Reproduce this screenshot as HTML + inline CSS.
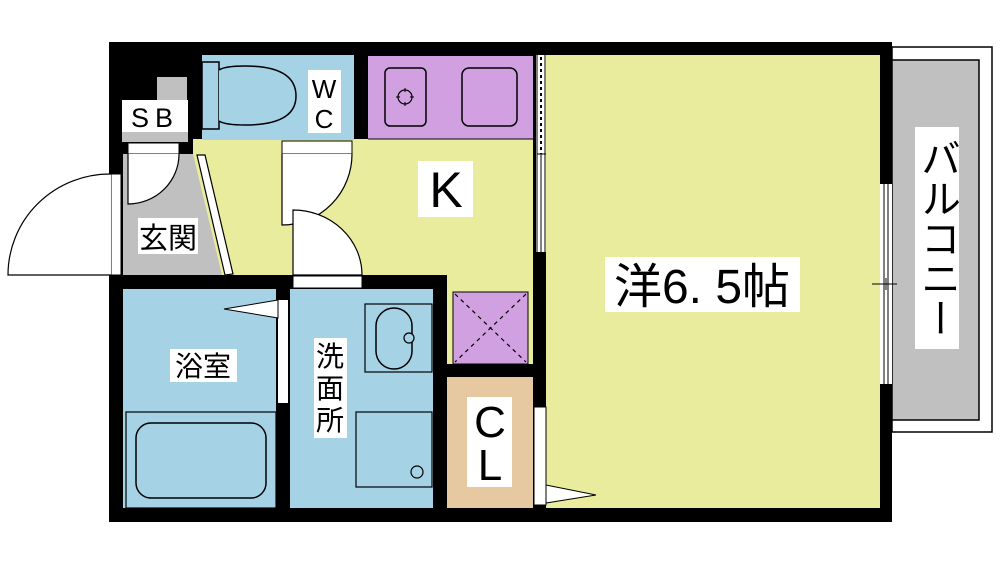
<!DOCTYPE html>
<html><head><meta charset="utf-8"><style>
html,body{margin:0;padding:0;background:#fff;width:1000px;height:562px;overflow:hidden}
.wrap{position:relative;width:1000px;height:562px}
svg{position:absolute;left:0;top:0}
.v{position:absolute;writing-mode:vertical-rl;font-family:"Liberation Sans","Noto Sans CJK JP",sans-serif;background:#fff;color:#000;text-align:center}
</style></head><body><div class="wrap">
<svg width="1000" height="562" viewBox="0 0 1000 562" xmlns="http://www.w3.org/2000/svg" font-family="Liberation Sans, Noto Sans CJK JP, sans-serif">
<!-- balcony -->
<rect x="892" y="47" width="100" height="385" fill="#fff" stroke="#000" stroke-width="1.5"/>
<rect x="892" y="60" width="87" height="360" fill="#c0c0c0" stroke="#000" stroke-width="1.5"/>
<!-- outer wall fill -->
<rect x="109" y="42" width="783" height="480" fill="#000"/>
<!-- main room -->
<rect x="546" y="55" width="334" height="453" fill="#e8ec9c"/>
<!-- right window -->
<rect x="880" y="184" width="12" height="200" fill="#fff"/>
<line x1="884" y1="184" x2="884" y2="384" stroke="#000" stroke-width="1"/>
<line x1="888" y1="184" x2="888" y2="384" stroke="#000" stroke-width="1"/>
<line x1="872" y1="284" x2="897" y2="284" stroke="#000" stroke-width="1"/>
<line x1="886" y1="278" x2="886" y2="290" stroke="#000" stroke-width="1"/>
<!-- kitchen yellow -->
<rect x="193" y="139" width="340" height="136" fill="#e8ec9c"/>
<rect x="447" y="275" width="86" height="89" fill="#e8ec9c"/>
<!-- WC -->
<rect x="202" y="55" width="152" height="85" fill="#a6d2e6"/>
<rect x="202" y="62" width="17" height="67" fill="#a6d2e6" stroke="#000" stroke-width="1.5"/>
<path d="M219 70 Q225 66 245 66 Q296 66 296 96 Q296 125 245 125 Q225 125 219 121" fill="#a6d2e6" stroke="#000" stroke-width="1.5"/>
<rect x="308" y="70" width="33" height="63" fill="#fff"/>
<text x="324" y="98" font-size="26" text-anchor="middle">W</text>
<text x="324" y="128" font-size="26" text-anchor="middle">C</text>
<!-- kitchen counter -->
<rect x="368" y="56" width="165" height="83" fill="#d0a0e0"/>
<line x1="368" y1="139" x2="533" y2="139" stroke="#000" stroke-width="1"/>
<rect x="385" y="68" width="41" height="58" rx="5" fill="none" stroke="#000" stroke-width="1.5"/>
<circle cx="405" cy="97" r="7" fill="none" stroke="#000" stroke-width="1.2"/>
<line x1="396" y1="97" x2="414" y2="97" stroke="#000" stroke-width="1"/>
<line x1="405" y1="88" x2="405" y2="106" stroke="#000" stroke-width="1"/>
<circle cx="405" cy="97" r="5" fill="#d0a0e0"/>
<rect x="462" y="68" width="55" height="58" rx="7" fill="none" stroke="#000" stroke-width="1.5"/>
<!-- partition between kitchen and room -->
<rect x="536" y="55" width="10" height="197" fill="#fff"/>
<line x1="541" y1="57" x2="541" y2="154" stroke="#000" stroke-width="2" stroke-dasharray="3,3"/>
<line x1="537" y1="55" x2="537" y2="252" stroke="#000" stroke-width="1"/>
<line x1="545" y1="55" x2="545" y2="252" stroke="#000" stroke-width="1"/>
<line x1="537" y1="154" x2="546" y2="154" stroke="#000" stroke-width="1"/>
<line x1="541" y1="154" x2="541" y2="252" stroke="#000" stroke-width="1"/>
<!-- SB -->
<rect x="157" y="77" width="30" height="24" fill="#c0c0c0"/>
<rect x="122" y="100" width="66" height="42" fill="#c0c0c0"/>
<rect x="122" y="100" width="66" height="32" fill="#fff"/>
<text x="155" y="127" font-size="27" text-anchor="middle" letter-spacing="6">SB</text>
<rect x="128" y="143" width="51" height="11" fill="#fff" stroke="#000" stroke-width="1"/>
<!-- genkan -->
<polygon points="123,154 193,154 222,275 123,275" fill="#c0c0c0"/>
<polygon points="197,155 205,155 233,274 225,275" fill="#fff" stroke="#000" stroke-width="1.2"/>
<path d="M128 154 L128 204 A51 50 0 0 0 179 154" fill="#fff" stroke="#000" stroke-width="1.2"/>
<rect x="138" y="218" width="60" height="36" fill="#fff"/>
<text x="168" y="248" font-size="29" text-anchor="middle">玄関</text>
<!-- entrance door -->
<rect x="111" y="174" width="10" height="101" fill="#fff" stroke="#000" stroke-width="1"/>
<path d="M111 174 A102 101 0 0 0 8 275 L111 275" fill="#fff" stroke="#000" stroke-width="1.2"/>
<!-- WC door -->
<rect x="282" y="141" width="70" height="13" fill="#fff" stroke="#000" stroke-width="1"/>
<path d="M282 154 L282 225 A70 71 0 0 0 352 154" fill="#fff" stroke="#000" stroke-width="1.2"/>
<!-- washroom door -->
<path d="M293 275 L293 210 A69 65 0 0 1 362 275 Z" fill="#fff" stroke="#000" stroke-width="1.2"/>
<!-- K label -->
<rect x="418" y="161" width="55" height="56" fill="#fff"/>
<text x="446" y="207" font-size="50" text-anchor="middle">K</text>
<!-- horizontal wall -->
<rect x="109" y="275" width="338" height="14" fill="#000"/>
<rect x="293" y="276" width="69" height="12" fill="#fff" stroke="#000" stroke-width="1"/>
<!-- bath -->
<rect x="123" y="289" width="153" height="219" fill="#a6d2e6"/>
<rect x="126" y="412" width="150" height="96" fill="none" stroke="#000" stroke-width="1.2"/>
<rect x="136" y="423" width="130" height="75" rx="15" fill="none" stroke="#000" stroke-width="1.5"/>
<rect x="170" y="349" width="67" height="33" fill="#fff"/>
<text x="203" y="376" font-size="28" text-anchor="middle">浴室</text>
<rect x="278" y="300" width="10" height="103" fill="#fff"/>
<polygon points="224,309 278,300 278,318" fill="#fff" stroke="#000" stroke-width="1"/>
<!-- washroom -->
<rect x="290" y="289" width="143" height="219" fill="#a6d2e6"/>
<rect x="365" y="304" width="67" height="68" fill="#a6d2e6" stroke="#000" stroke-width="1.2"/>
<rect x="376" y="308" width="36" height="61" rx="18" fill="none" stroke="#000" stroke-width="1.5"/>
<circle cx="409" cy="338" r="5" fill="#a6d2e6" stroke="#000" stroke-width="1.2"/>
<rect x="356" y="412" width="76" height="75" fill="#a6d2e6" stroke="#000" stroke-width="1.2"/>
<circle cx="417" cy="472" r="6" fill="none" stroke="#000" stroke-width="1.2"/>
<rect x="314" y="338" width="33" height="100" fill="#fff"/>
<text x="330" y="366" font-size="28" text-anchor="middle">洗</text>
<text x="330" y="398" font-size="28" text-anchor="middle">面</text>
<text x="330" y="430" font-size="28" text-anchor="middle">所</text>
<!-- closet purple -->
<rect x="453" y="292" width="75" height="72" fill="#d0a0e0" stroke="#000" stroke-width="1"/>
<line x1="455" y1="294" x2="526" y2="362" stroke="#000" stroke-width="1.2" stroke-dasharray="4,4"/>
<line x1="526" y1="294" x2="455" y2="362" stroke="#000" stroke-width="1.2" stroke-dasharray="4,4"/>
<!-- CL -->
<rect x="447" y="377" width="86" height="131" fill="#e6c9a0"/>
<rect x="467" y="397" width="45" height="90" fill="#fff"/>
<text x="490" y="437" font-size="44" text-anchor="middle">C</text>
<text x="490" y="480" font-size="44" text-anchor="middle">L</text>
<!-- CL door -->
<rect x="534" y="407" width="12" height="98" fill="#fff" stroke="#000" stroke-width="1"/>
<polygon points="546,485 596,495 546,503" fill="#fff" stroke="#000" stroke-width="1"/>
<!-- room label -->
<rect x="605" y="257" width="195" height="55" fill="#fff"/>
<text x="702" y="303" font-size="48" text-anchor="middle">洋6. 5帖</text>
</svg>
<div class="v" style="left:915px;top:127px;width:44px;height:222px;font-size:40px;line-height:44px;">バルコニー</div>
</div></body></html>
